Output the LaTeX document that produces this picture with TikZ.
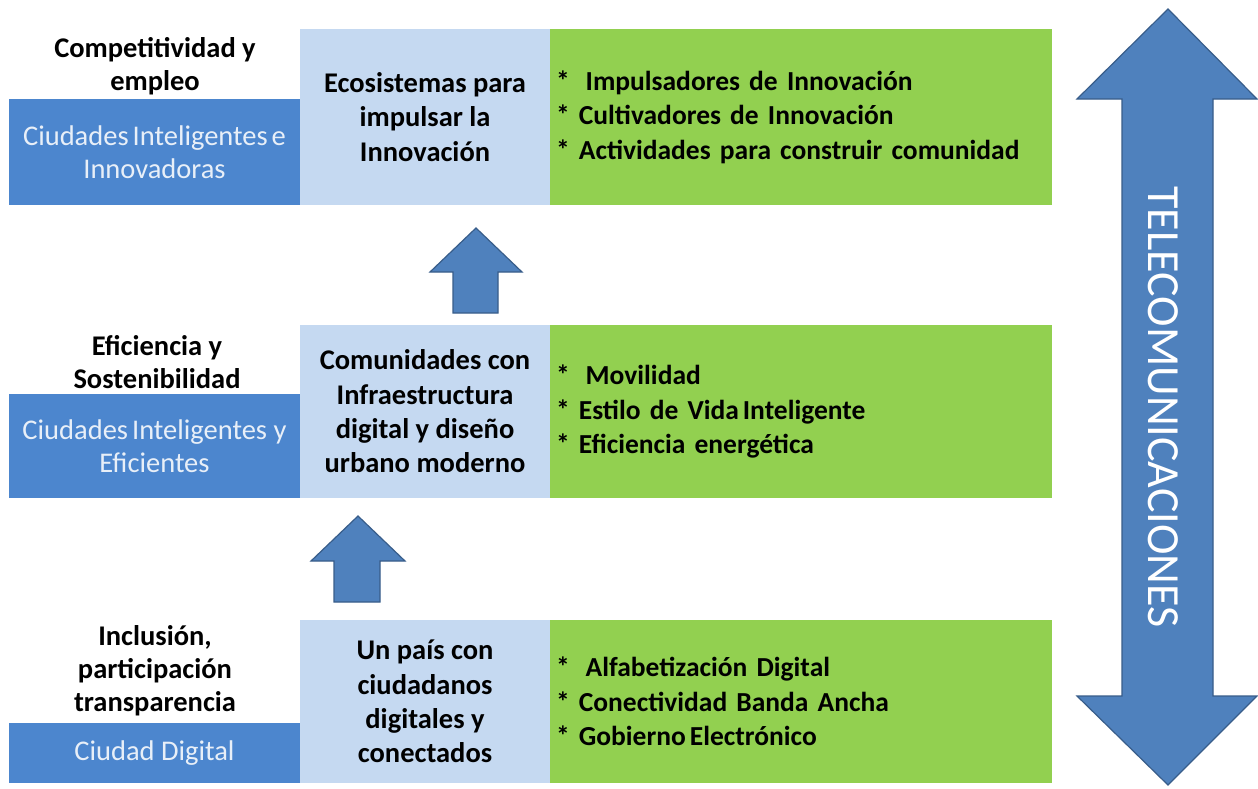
\documentclass[tikz,border=0pt]{standalone}
\usepackage{fontspec}
\setmainfont{Carlito}
\definecolor{dblue}{RGB}{76,134,206}
\definecolor{lblue}{RGB}{197,217,241}
\definecolor{lgreen}{RGB}{146,208,80}
\definecolor{arrowfill}{RGB}{79,129,189}
\definecolor{arrowline}{RGB}{56,93,138}
\definecolor{paletxt}{RGB}{232,239,248}
\begin{document}
\begin{tikzpicture}[x=1pt,y=-1pt,
  every node/.style={inner sep=0pt, outer sep=0pt},
  darkbox/.style={fill=dblue, anchor=north west, minimum width=291pt, align=center,
    text=paletxt, font=\fontsize{28.5}{33.5}\selectfont},
  lightbox/.style={fill=lblue, anchor=north west, minimum width=250pt, align=center,
    font=\bfseries\fontsize{28.5}{34.3}\selectfont},
  greenbox/.style={fill=lgreen, anchor=north west, text width=490pt, inner xsep=6pt,
    align=left, font=\bfseries\fontsize{27.5}{34.5}\selectfont},
  toplabel/.style={align=center, font=\bfseries\fontsize{28.5}{33}\selectfont},
  uparrow/.style={fill=arrowfill, draw=arrowline, line width=1.2pt, line join=miter}
]
\useasboundingbox (0,0) rectangle (1258,788);
\fill[white] (0,0) rectangle (1258,788);

% top row
\node[lightbox, minimum height=176pt] (eco) at (300,29) {Ecosistemas para\\impulsar la\\Innovación};
\node[greenbox, minimum height=176pt] (ecolist) at (550,29) {*\hspace{16pt}Impulsadores de Innovación\\{*} Cultivadores de Innovación\\{*} Actividades para construir comunidad};
\node[darkbox, minimum height=106pt] (innov) at (9,99) {Ciudades\hspace{4pt}Inteligentes\hspace{4pt}e\\Innovadoras};
\node[toplabel] (comp) at (155,66) {Competitividad y\\empleo};

% middle row
\node[lightbox, minimum height=173pt] (com) at (300,325) {Comunidades con\\Infraestructura\\digital y diseño\\urbano moderno};
\node[greenbox, minimum height=173pt] (comlist) at (550,325) {*\hspace{16pt}Movilidad\\{*} Estilo de Vida\hspace{4pt}Inteligente\\{*} Eficiencia energética};
\node[darkbox, minimum height=104pt] (efic) at (9,394) {Ciudades\hspace{4pt}Inteligentes y\\Eficientes};
\node[toplabel] (sost) at (157,362) {Eficiencia y\\Sostenibilidad};

% bottom row
\node[lightbox, minimum height=163pt] (pais) at (300,620) {Un país con\\ciudadanos\\digitales y\\conectados};
\node[greenbox, minimum height=163pt] (paislist) at (550,620) {*\hspace{16pt}Alfabetización Digital\\{*} Conectividad Banda Ancha\\{*} Gobierno\hspace{4pt}Electrónico};
\node[darkbox, minimum height=60pt] (digital) at (9,723) {Ciudad Digital};
\node[toplabel] (incl) at (155,671) {Inclusión,\\participación\\transparencia};

% small up arrows
\draw[uparrow] (476,228) -- (522,272) -- (498,272) -- (498,313) -- (453,313) -- (453,272) -- (430,272) -- cycle;
\draw[uparrow] (358,516) -- (405,561) -- (380,561) -- (380,602) -- (334,602) -- (334,561) -- (311,561) -- cycle;

% big double arrow
\draw[uparrow] (1168,9) -- (1257,99) -- (1213,99) -- (1213,696) -- (1257,696) -- (1168,785)
  -- (1077,696) -- (1122,696) -- (1122,99) -- (1077,99) -- cycle;
\node[rotate=-90, text=white, font=\fontsize{46}{46}\selectfont] (tele) at (1163,407) {TELECOMUNICACIONES};
\end{tikzpicture}
\end{document}
